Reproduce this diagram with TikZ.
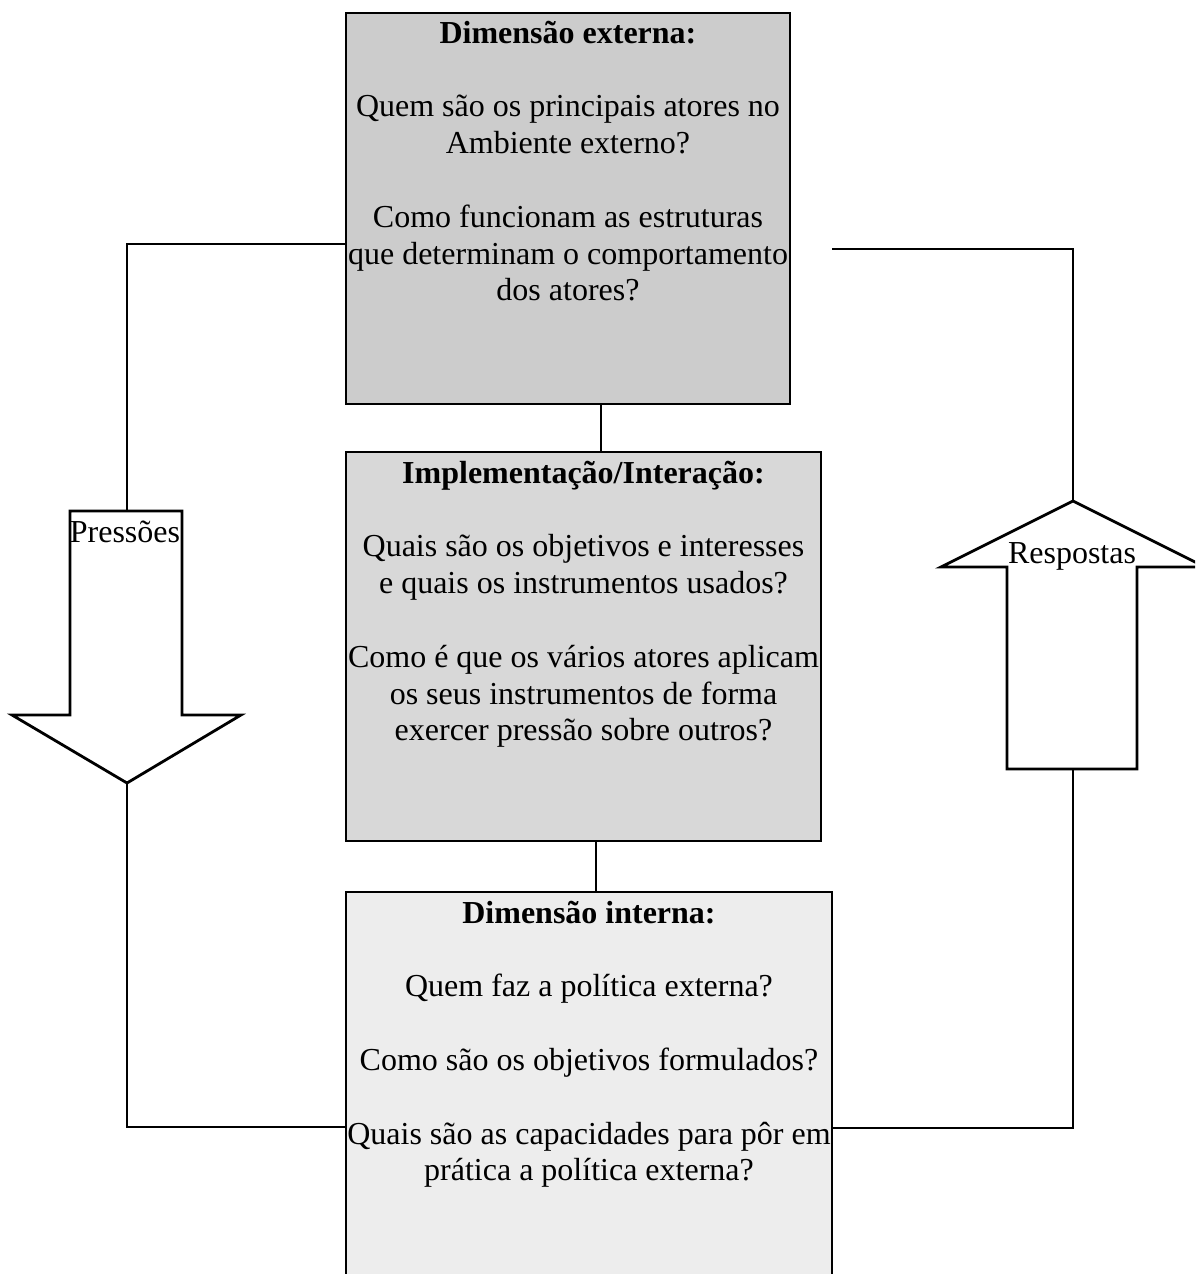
\documentclass[tikz,border=0pt]{standalone}
\usepackage{fontspec}
\setmainfont{Liberation Serif}
\definecolor{gTop}{RGB}{204,204,204}
\definecolor{gMid}{RGB}{216,216,216}
\definecolor{gBot}{RGB}{237,237,237}
\begin{document}
\begin{tikzpicture}[x=1pt,y=-1pt,
  box/.style={draw=black, line width=2.8pt, rectangle, inner sep=0pt, outer sep=0pt},
  boxtext/.style={anchor=north, inner sep=0pt, align=center, font=\fontsize{32}{36.8}\selectfont},
  lbl/.style={anchor=base, inner sep=0pt, font=\fontsize{32}{36.8}\selectfont},
  conn/.style={draw=black, line width=2.8pt, line join=miter},
  bigarrow/.style={draw=black, line width=2.8pt, fill=white, line join=miter}
]
\useasboundingbox (0,0) rectangle (1195,1274);
\clip (0,0) rectangle (1195,1274);

% boxes
\node[box, fill=gTop, minimum width=444pt, minimum height=391pt] (top) at (568,208.5) {};
\node[box, fill=gMid, minimum width=475pt, minimum height=389pt] (mid) at (583.5,646.5) {};
\node[box, fill=gBot, minimum width=486pt, minimum height=398pt] (bot) at (589,1091) {};

% connectors between boxes
\coordinate (c1) at (601,0);
\coordinate (c2) at (596,0);
\draw[conn] (top.south -| c1) -- (mid.north -| c1);
\draw[conn] (mid.south -| c2) -- (bot.north -| c2);

% box texts
\node[boxtext] (ttop) at (top.north) {\rule{0pt}{30pt}\textbf{Dimensão externa:}\\[36.8pt]
Quem são os principais atores no\\ Ambiente externo?\\[36.8pt]
Como funcionam as estruturas\\ que determinam o comportamento\\ dos atores?};
\node[boxtext] (tmid) at (mid.north) {\rule{0pt}{31pt}\textbf{Implementação/Interação:}\\[36.8pt]
Quais são os objetivos e interesses\\ e quais os instrumentos usados?\\[36.8pt]
Como é que os vários atores aplicam\\ os seus instrumentos de forma\\ exercer pressão sobre outros?};
\node[boxtext] (tbot) at (bot.north) {\rule{0pt}{31pt}\textbf{Dimensão interna:}\\[36.8pt]
Quem faz a política externa?\\[36.8pt]
Como são os objetivos formulados?\\[36.8pt]
Quais são as capacidades para pôr em\\ prática a política externa?};

% big arrows
\draw[bigarrow] (70,511) -- (182,511) -- (182,715) -- (241,715) -- (127,783) -- (12,715) -- (70,715) -- cycle;
\coordinate (pTop) at (127,511);
\coordinate (pTip) at (127,783);
\node[lbl] (pl) at (125,542) {Pressões};

\draw[bigarrow] (1007,769) -- (1007,567) -- (941,567) -- (1073,501) -- (1205,567) -- (1137,567) -- (1137,769) -- cycle;
\coordinate (rTip) at (1073,501);
\coordinate (rBot) at (1073,769);
\node[lbl] (rl) at (1072,563) {Respostas};

% outer loop connectors
\coordinate (lA) at (127,244);
\coordinate (lB) at (127,1127);
\draw[conn] (top.west |- lA) -- (lA) -- (pTop);
\draw[conn] (pTip) -- (lB) -- (bot.west |- lB);

\coordinate (rFree) at (832,249);
\coordinate (rA) at (1073,249);
\coordinate (rB) at (1073,1128);
\draw[conn] (rFree) -- (rA) -- (rTip);
\draw[conn] (rBot) -- (rB) -- (bot.east |- rB);
\end{tikzpicture}
\end{document}
